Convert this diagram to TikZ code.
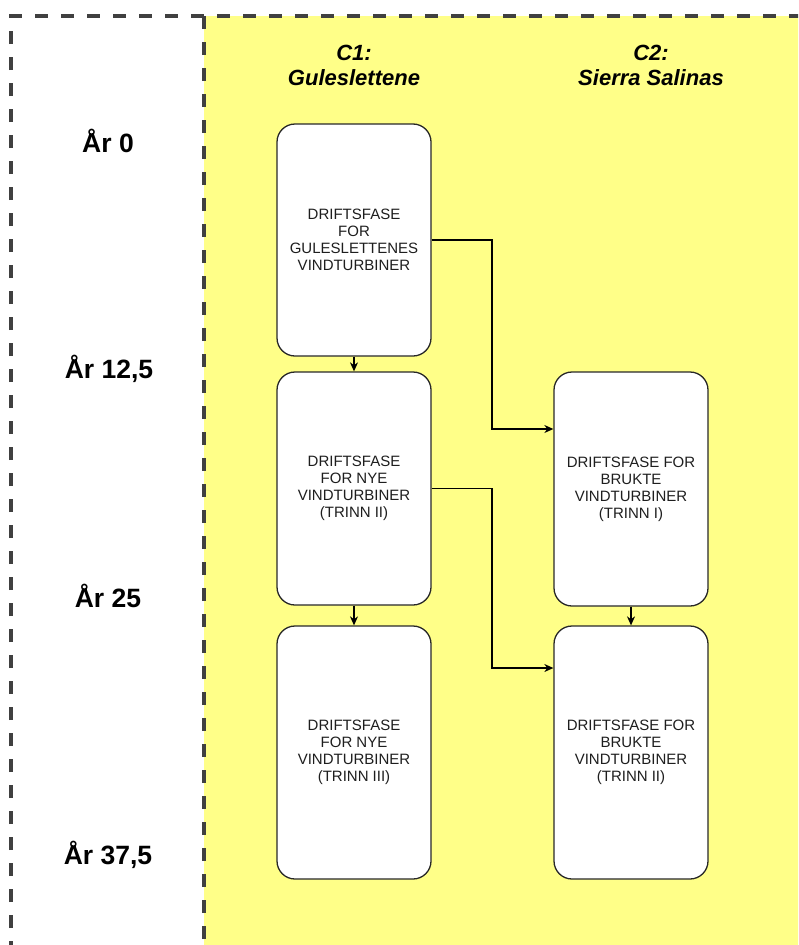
\documentclass[tikz,border=0pt]{standalone}
\usepackage{fontspec}
\setmainfont{Liberation Sans}
\usetikzlibrary{arrows.meta}
\definecolor{bgyellow}{RGB}{255,255,136}
\definecolor{dashgrey}{RGB}{64,64,64}
\definecolor{boxline}{RGB}{40,40,40}
\definecolor{boxtext}{RGB}{30,30,30}
\begin{document}
\begin{tikzpicture}[x=1pt,y=-1pt,
  phase/.style={draw=boxline, line width=1.3pt, fill=white, rounded corners=18pt,
    minimum width=154pt, inner sep=0pt, align=center, text=boxtext,
    font=\fontsize{15}{17}\selectfont},
  arr/.style={-{Stealth[length=9pt,width=8pt]}, line width=1.2pt, draw=black},
  yearlbl/.style={font=\fontsize{26.5}{30}\selectfont\bfseries},
  colhead/.style={font=\fontsize{22}{25}\selectfont\bfseries\itshape, align=center},
  border/.style={draw=dashgrey, line width=4pt, dash pattern=on 13pt off 13pt}
]
\useasboundingbox (0,0) rectangle (798,945);
\clip (0,0) rectangle (798,945);
\fill[white] (0,0) rectangle (798,945);
\fill[bgyellow] (204,16) rectangle (820,960);
\draw[border] (11,980) -- (11,16) -- (820,16);
\draw[border] (204,16) -- (204,980);

\node[colhead] (h1) at (354,65) {C1:\\Guleslettene};
\node[colhead] (h2) at (651,65) {C2:\\Sierra Salinas};

\node[yearlbl] (y0) at (108,141) {År 0};
\node[yearlbl] (y1) at (109,369) {År 12,5};
\node[yearlbl] (y2) at (108,596) {År 25};
\node[yearlbl] (y3) at (108,855) {År 37,5};

\node[phase, minimum height=232pt] (A) at (354,240) {DRIFTSFASE\\FOR\\GULESLETTENES\\VINDTURBINER};
\node[phase, minimum height=233pt] (B) at (354,488.5) {DRIFTSFASE\\FOR NYE\\VINDTURBINER\\(TRINN II)};
\node[phase, minimum height=253pt] (C) at (354,752.5) {DRIFTSFASE\\FOR NYE\\VINDTURBINER\\(TRINN III)};
\node[phase, minimum height=234pt] (D) at (631,489) {DRIFTSFASE FOR\\BRUKTE\\VINDTURBINER\\(TRINN I)};
\node[phase, minimum height=253pt] (E) at (631,752.5) {DRIFTSFASE FOR\\BRUKTE\\VINDTURBINER\\(TRINN II)};

\coordinate (k1) at (492,429);
\coordinate (k2) at (492,668);

\draw[arr] (A.south) -- (B.north);
\draw[arr] (B.south) -- (C.north);
\draw[arr] (D.south) -- (E.north);
\draw[arr] (A.east) -| (k1) -- (k1 -| D.west);
\draw[arr] (B.east) -| (k2) -- (k2 -| E.west);
\end{tikzpicture}
\end{document}
